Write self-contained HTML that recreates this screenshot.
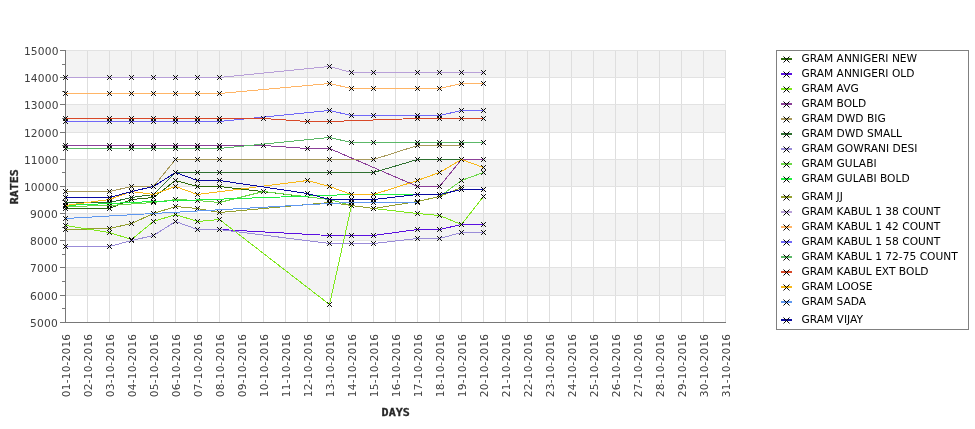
<!DOCTYPE html>
<html lang="en"><head><meta charset="utf-8"><title>Gram rates</title>
<style>
html,body{margin:0;padding:0;background:#fff}
body{width:975px;height:429px;overflow:hidden}
svg{display:block;will-change:transform;transform:translateZ(0)}
.t{font-family:"DejaVu Sans","Liberation Sans",sans-serif;font-size:10.67px;fill:#404040}
.l{font-family:"DejaVu Sans","Liberation Sans",sans-serif;font-size:10.67px;fill:#000}
.a{font-family:"DejaVu Sans Mono","Liberation Mono",monospace;font-weight:bold;font-size:11.2px;fill:#282828;stroke:#282828;stroke-width:.3}
.m{stroke:#000;stroke-width:1;fill:none}
.k{stroke:#000;stroke-width:1;fill:none}
.s{fill:none;stroke-width:1;stroke-linejoin:round;shape-rendering:crispEdges}
</style></head><body>
<svg width="975" height="429" viewBox="0 0 975 429">
<rect width="975" height="429" fill="#fff"/>
<rect x="65" y="50.00" width="661" height="27.00" fill="#f3f3f3"/>
<rect x="65" y="104.00" width="661" height="28.00" fill="#f3f3f3"/>
<rect x="65" y="159.00" width="661" height="27.00" fill="#f3f3f3"/>
<rect x="65" y="213.00" width="661" height="27.00" fill="#f3f3f3"/>
<rect x="65" y="267.00" width="661" height="28.00" fill="#f3f3f3"/>
<path d="M87.5 50V322M109.5 50V322M131.5 50V322M153.5 50V322M175.5 50V322M197.5 50V322M219.5 50V322M241.5 50V322M263.5 50V322M285.5 50V322M307.5 50V322M329.5 50V322M351.5 50V322M373.5 50V322M395.5 50V322M417.5 50V322M439.5 50V322M461.5 50V322M483.5 50V322M505.5 50V322M527.5 50V322M549.5 50V322M571.5 50V322M593.5 50V322M615.5 50V322M637.5 50V322M659.5 50V322M681.5 50V322M703.5 50V322M725.5 50V322" stroke="#dedede" stroke-width="1" fill="none"/>
<path d="M66 295.5H726M66 267.5H726M66 240.5H726M66 213.5H726M66 186.5H726M66 159.5H726M66 132.5H726M66 104.5H726M66 77.5H726M66 50.5H726" stroke="#e2e2e2" stroke-width="1" fill="none"/>
<path d="M65.5 50V323M65 322.5H726M60 322.5H65M62 308.5H65M60 295.5H65M62 281.5H65M60 267.5H65M62 254.5H65M60 240.5H65M62 227.5H65M60 213.5H65M62 200.5H65M60 186.5H65M62 172.5H65M60 159.5H65M62 145.5H65M60 132.5H65M62 118.5H65M60 104.5H65M62 91.5H65M60 77.5H65M62 64.5H65M60 50.5H65" stroke="#787878" stroke-width="1" fill="none"/>
<text class="t" x="57.9" y="326.5" text-anchor="end" letter-spacing="0.2">5000</text>
<text class="t" x="57.9" y="299.5" text-anchor="end" letter-spacing="0.2">6000</text>
<text class="t" x="57.9" y="271.5" text-anchor="end" letter-spacing="0.2">7000</text>
<text class="t" x="57.9" y="244.5" text-anchor="end" letter-spacing="0.2">8000</text>
<text class="t" x="57.9" y="217.5" text-anchor="end" letter-spacing="0.2">9000</text>
<text class="t" x="58.8" y="190.5" text-anchor="end" letter-spacing="0.2">10000</text>
<text class="t" x="58.8" y="163.5" text-anchor="end" letter-spacing="0.2">11000</text>
<text class="t" x="58.8" y="136.5" text-anchor="end" letter-spacing="0.2">12000</text>
<text class="t" x="58.8" y="108.5" text-anchor="end" letter-spacing="0.2">13000</text>
<text class="t" x="58.8" y="81.5" text-anchor="end" letter-spacing="0.2">14000</text>
<text class="t" x="58.8" y="54.5" text-anchor="end" letter-spacing="0.2">15000</text>
<text class="t" transform="translate(69.9 333.7) rotate(-90)" text-anchor="end" letter-spacing="0.15">01-10-2016</text>
<text class="t" transform="translate(91.9 333.7) rotate(-90)" text-anchor="end" letter-spacing="0.15">02-10-2016</text>
<text class="t" transform="translate(113.9 333.7) rotate(-90)" text-anchor="end" letter-spacing="0.15">03-10-2016</text>
<text class="t" transform="translate(135.9 333.7) rotate(-90)" text-anchor="end" letter-spacing="0.15">04-10-2016</text>
<text class="t" transform="translate(157.9 333.7) rotate(-90)" text-anchor="end" letter-spacing="0.15">05-10-2016</text>
<text class="t" transform="translate(179.9 333.7) rotate(-90)" text-anchor="end" letter-spacing="0.15">06-10-2016</text>
<text class="t" transform="translate(201.9 333.7) rotate(-90)" text-anchor="end" letter-spacing="0.15">07-10-2016</text>
<text class="t" transform="translate(223.9 333.7) rotate(-90)" text-anchor="end" letter-spacing="0.15">08-10-2016</text>
<text class="t" transform="translate(245.9 333.7) rotate(-90)" text-anchor="end" letter-spacing="0.15">09-10-2016</text>
<text class="t" transform="translate(267.9 333.7) rotate(-90)" text-anchor="end" letter-spacing="0.15">10-10-2016</text>
<text class="t" transform="translate(289.9 333.7) rotate(-90)" text-anchor="end" letter-spacing="0.15">11-10-2016</text>
<text class="t" transform="translate(311.9 333.7) rotate(-90)" text-anchor="end" letter-spacing="0.15">12-10-2016</text>
<text class="t" transform="translate(333.9 333.7) rotate(-90)" text-anchor="end" letter-spacing="0.15">13-10-2016</text>
<text class="t" transform="translate(355.9 333.7) rotate(-90)" text-anchor="end" letter-spacing="0.15">14-10-2016</text>
<text class="t" transform="translate(377.9 333.7) rotate(-90)" text-anchor="end" letter-spacing="0.15">15-10-2016</text>
<text class="t" transform="translate(399.9 333.7) rotate(-90)" text-anchor="end" letter-spacing="0.15">16-10-2016</text>
<text class="t" transform="translate(421.9 333.7) rotate(-90)" text-anchor="end" letter-spacing="0.15">17-10-2016</text>
<text class="t" transform="translate(443.9 333.7) rotate(-90)" text-anchor="end" letter-spacing="0.15">18-10-2016</text>
<text class="t" transform="translate(465.9 333.7) rotate(-90)" text-anchor="end" letter-spacing="0.15">19-10-2016</text>
<text class="t" transform="translate(487.9 333.7) rotate(-90)" text-anchor="end" letter-spacing="0.15">20-10-2016</text>
<text class="t" transform="translate(509.9 333.7) rotate(-90)" text-anchor="end" letter-spacing="0.15">21-10-2016</text>
<text class="t" transform="translate(531.9 333.7) rotate(-90)" text-anchor="end" letter-spacing="0.15">22-10-2016</text>
<text class="t" transform="translate(553.9 333.7) rotate(-90)" text-anchor="end" letter-spacing="0.15">23-10-2016</text>
<text class="t" transform="translate(575.9 333.7) rotate(-90)" text-anchor="end" letter-spacing="0.15">24-10-2016</text>
<text class="t" transform="translate(597.9 333.7) rotate(-90)" text-anchor="end" letter-spacing="0.15">25-10-2016</text>
<text class="t" transform="translate(619.9 333.7) rotate(-90)" text-anchor="end" letter-spacing="0.15">26-10-2016</text>
<text class="t" transform="translate(641.9 333.7) rotate(-90)" text-anchor="end" letter-spacing="0.15">27-10-2016</text>
<text class="t" transform="translate(663.9 333.7) rotate(-90)" text-anchor="end" letter-spacing="0.15">28-10-2016</text>
<text class="t" transform="translate(685.9 333.7) rotate(-90)" text-anchor="end" letter-spacing="0.15">29-10-2016</text>
<text class="t" transform="translate(707.9 333.7) rotate(-90)" text-anchor="end" letter-spacing="0.15">30-10-2016</text>
<text class="t" transform="translate(729.9 333.7) rotate(-90)" text-anchor="end" letter-spacing="0.15">31-10-2016</text>
<text class="a" transform="translate(18.4 204.3) rotate(-90)" textLength="35.2" lengthAdjust="spacingAndGlyphs">RATES</text>
<text class="a" x="381.6" y="416.1" textLength="28.2" lengthAdjust="spacingAndGlyphs">DAYS</text>
<path class="s" d="M65.5 208.50L109.5 208.50L131.5 199.50L153.5 197.50L175.5 180.50L197.5 186.50L219.5 186.50L329.5 199.50L351.5 199.50L373.5 199.50L417.5 194.50L439.5 194.50L461.5 189.50L483.5 189.50" stroke="#2f6b0c"/>
<path class="k" d="M63.1 206.10l4.8 4.8m0 -4.8l-4.8 4.8M107.1 206.10l4.8 4.8m0 -4.8l-4.8 4.8M129.1 197.10l4.8 4.8m0 -4.8l-4.8 4.8M151.1 195.10l4.8 4.8m0 -4.8l-4.8 4.8M173.1 178.10l4.8 4.8m0 -4.8l-4.8 4.8M195.1 184.10l4.8 4.8m0 -4.8l-4.8 4.8M217.1 184.10l4.8 4.8m0 -4.8l-4.8 4.8M327.1 197.10l4.8 4.8m0 -4.8l-4.8 4.8M349.1 197.10l4.8 4.8m0 -4.8l-4.8 4.8M371.1 197.10l4.8 4.8m0 -4.8l-4.8 4.8M415.1 192.10l4.8 4.8m0 -4.8l-4.8 4.8M437.1 192.10l4.8 4.8m0 -4.8l-4.8 4.8M459.1 187.10l4.8 4.8m0 -4.8l-4.8 4.8M481.1 187.10l4.8 4.8m0 -4.8l-4.8 4.8"/>
<path class="s" d="M219.5 229.50L329.5 235.50L351.5 235.50L373.5 235.50L417.5 229.50L439.5 229.50L461.5 224.50L483.5 224.50" stroke="#5a0fe0"/>
<path class="k" d="M217.1 227.10l4.8 4.8m0 -4.8l-4.8 4.8M327.1 233.10l4.8 4.8m0 -4.8l-4.8 4.8M349.1 233.10l4.8 4.8m0 -4.8l-4.8 4.8M371.1 233.10l4.8 4.8m0 -4.8l-4.8 4.8M415.1 227.10l4.8 4.8m0 -4.8l-4.8 4.8M437.1 227.10l4.8 4.8m0 -4.8l-4.8 4.8M459.1 222.10l4.8 4.8m0 -4.8l-4.8 4.8M481.1 222.10l4.8 4.8m0 -4.8l-4.8 4.8"/>
<path class="s" d="M65.5 225.50L109.5 232.50L131.5 239.50L153.5 221.50L175.5 214.50L197.5 221.50L219.5 219.50L329.5 304.50L351.5 205.50L373.5 208.50L417.5 213.50L439.5 215.50L461.5 224.50L483.5 196.50" stroke="#7fe81c"/>
<path class="k" d="M63.1 223.10l4.8 4.8m0 -4.8l-4.8 4.8M107.1 230.10l4.8 4.8m0 -4.8l-4.8 4.8M129.1 237.10l4.8 4.8m0 -4.8l-4.8 4.8M151.1 219.10l4.8 4.8m0 -4.8l-4.8 4.8M173.1 212.10l4.8 4.8m0 -4.8l-4.8 4.8M195.1 219.10l4.8 4.8m0 -4.8l-4.8 4.8M217.1 217.10l4.8 4.8m0 -4.8l-4.8 4.8M327.1 302.10l4.8 4.8m0 -4.8l-4.8 4.8M349.1 203.10l4.8 4.8m0 -4.8l-4.8 4.8M371.1 206.10l4.8 4.8m0 -4.8l-4.8 4.8M415.1 211.10l4.8 4.8m0 -4.8l-4.8 4.8M437.1 213.10l4.8 4.8m0 -4.8l-4.8 4.8M459.1 222.10l4.8 4.8m0 -4.8l-4.8 4.8M481.1 194.10l4.8 4.8m0 -4.8l-4.8 4.8"/>
<path class="s" d="M65.5 145.50L109.5 145.50L131.5 145.50L153.5 145.50L175.5 145.50L197.5 145.50L219.5 145.50L263.5 145.50L307.5 148.50L329.5 148.50L417.5 186.50L439.5 186.50L461.5 159.50L483.5 159.50" stroke="#8b3f98"/>
<path class="k" d="M63.1 143.10l4.8 4.8m0 -4.8l-4.8 4.8M107.1 143.10l4.8 4.8m0 -4.8l-4.8 4.8M129.1 143.10l4.8 4.8m0 -4.8l-4.8 4.8M151.1 143.10l4.8 4.8m0 -4.8l-4.8 4.8M173.1 143.10l4.8 4.8m0 -4.8l-4.8 4.8M195.1 143.10l4.8 4.8m0 -4.8l-4.8 4.8M217.1 143.10l4.8 4.8m0 -4.8l-4.8 4.8M261.1 143.10l4.8 4.8m0 -4.8l-4.8 4.8M305.1 146.10l4.8 4.8m0 -4.8l-4.8 4.8M327.1 146.10l4.8 4.8m0 -4.8l-4.8 4.8M415.1 184.10l4.8 4.8m0 -4.8l-4.8 4.8M437.1 184.10l4.8 4.8m0 -4.8l-4.8 4.8M459.1 157.10l4.8 4.8m0 -4.8l-4.8 4.8M481.1 157.10l4.8 4.8m0 -4.8l-4.8 4.8"/>
<path class="s" d="M65.5 191.50L109.5 191.50L131.5 186.50L153.5 186.50L175.5 159.50L197.5 159.50L219.5 159.50L329.5 159.50L373.5 159.50L417.5 145.50L439.5 145.50L461.5 145.50" stroke="#a89a5c"/>
<path class="k" d="M63.1 189.10l4.8 4.8m0 -4.8l-4.8 4.8M107.1 189.10l4.8 4.8m0 -4.8l-4.8 4.8M129.1 184.10l4.8 4.8m0 -4.8l-4.8 4.8M151.1 184.10l4.8 4.8m0 -4.8l-4.8 4.8M173.1 157.10l4.8 4.8m0 -4.8l-4.8 4.8M195.1 157.10l4.8 4.8m0 -4.8l-4.8 4.8M217.1 157.10l4.8 4.8m0 -4.8l-4.8 4.8M327.1 157.10l4.8 4.8m0 -4.8l-4.8 4.8M371.1 157.10l4.8 4.8m0 -4.8l-4.8 4.8M415.1 143.10l4.8 4.8m0 -4.8l-4.8 4.8M437.1 143.10l4.8 4.8m0 -4.8l-4.8 4.8M459.1 143.10l4.8 4.8m0 -4.8l-4.8 4.8"/>
<path class="s" d="M65.5 202.50L109.5 202.50L131.5 197.50L153.5 194.50L175.5 172.50L197.5 172.50L219.5 172.50L329.5 172.50L373.5 172.50L417.5 159.50L439.5 159.50L461.5 159.50" stroke="#2e7030"/>
<path class="k" d="M63.1 200.10l4.8 4.8m0 -4.8l-4.8 4.8M107.1 200.10l4.8 4.8m0 -4.8l-4.8 4.8M129.1 195.10l4.8 4.8m0 -4.8l-4.8 4.8M151.1 192.10l4.8 4.8m0 -4.8l-4.8 4.8M173.1 170.10l4.8 4.8m0 -4.8l-4.8 4.8M195.1 170.10l4.8 4.8m0 -4.8l-4.8 4.8M217.1 170.10l4.8 4.8m0 -4.8l-4.8 4.8M327.1 170.10l4.8 4.8m0 -4.8l-4.8 4.8M371.1 170.10l4.8 4.8m0 -4.8l-4.8 4.8M415.1 157.10l4.8 4.8m0 -4.8l-4.8 4.8M437.1 157.10l4.8 4.8m0 -4.8l-4.8 4.8M459.1 157.10l4.8 4.8m0 -4.8l-4.8 4.8"/>
<path class="s" d="M65.5 246.50L109.5 246.50L131.5 240.50L153.5 235.50L175.5 221.50L197.5 229.50L219.5 229.50L329.5 243.50L351.5 243.50L373.5 243.50L417.5 238.50L439.5 238.50L461.5 232.50L483.5 232.50" stroke="#9a8cd8"/>
<path class="k" d="M63.1 244.10l4.8 4.8m0 -4.8l-4.8 4.8M107.1 244.10l4.8 4.8m0 -4.8l-4.8 4.8M129.1 238.10l4.8 4.8m0 -4.8l-4.8 4.8M151.1 233.10l4.8 4.8m0 -4.8l-4.8 4.8M173.1 219.10l4.8 4.8m0 -4.8l-4.8 4.8M195.1 227.10l4.8 4.8m0 -4.8l-4.8 4.8M217.1 227.10l4.8 4.8m0 -4.8l-4.8 4.8M327.1 241.10l4.8 4.8m0 -4.8l-4.8 4.8M349.1 241.10l4.8 4.8m0 -4.8l-4.8 4.8M371.1 241.10l4.8 4.8m0 -4.8l-4.8 4.8M415.1 236.10l4.8 4.8m0 -4.8l-4.8 4.8M437.1 236.10l4.8 4.8m0 -4.8l-4.8 4.8M459.1 230.10l4.8 4.8m0 -4.8l-4.8 4.8M481.1 230.10l4.8 4.8m0 -4.8l-4.8 4.8"/>
<path class="s" d="M65.5 206.50L109.5 205.50L153.5 202.50L175.5 199.50L197.5 200.50L219.5 202.50L263.5 191.50L329.5 199.50L351.5 205.50L373.5 208.50L417.5 201.50L439.5 196.50L461.5 180.50L483.5 172.50" stroke="#6cd848"/>
<path class="k" d="M63.1 204.10l4.8 4.8m0 -4.8l-4.8 4.8M107.1 203.10l4.8 4.8m0 -4.8l-4.8 4.8M151.1 200.10l4.8 4.8m0 -4.8l-4.8 4.8M173.1 197.10l4.8 4.8m0 -4.8l-4.8 4.8M195.1 198.10l4.8 4.8m0 -4.8l-4.8 4.8M217.1 200.10l4.8 4.8m0 -4.8l-4.8 4.8M261.1 189.10l4.8 4.8m0 -4.8l-4.8 4.8M327.1 197.10l4.8 4.8m0 -4.8l-4.8 4.8M349.1 203.10l4.8 4.8m0 -4.8l-4.8 4.8M371.1 206.10l4.8 4.8m0 -4.8l-4.8 4.8M415.1 199.10l4.8 4.8m0 -4.8l-4.8 4.8M437.1 194.10l4.8 4.8m0 -4.8l-4.8 4.8M459.1 178.10l4.8 4.8m0 -4.8l-4.8 4.8M481.1 170.10l4.8 4.8m0 -4.8l-4.8 4.8"/>
<path class="s" d="M65.5 205.50L153.5 201.50L351.5 194.50L373.5 194.50L417.5 194.50" stroke="#20f040"/>
<path class="k" d="M63.1 203.10l4.8 4.8m0 -4.8l-4.8 4.8M151.1 199.10l4.8 4.8m0 -4.8l-4.8 4.8M349.1 192.10l4.8 4.8m0 -4.8l-4.8 4.8M371.1 192.10l4.8 4.8m0 -4.8l-4.8 4.8M415.1 192.10l4.8 4.8m0 -4.8l-4.8 4.8"/>
<path class="s" d="M65.5 229.50L109.5 228.50L131.5 223.50L153.5 213.50L175.5 206.50L197.5 208.50L219.5 212.50L329.5 202.50L351.5 205.50L373.5 208.50L417.5 201.50L439.5 196.50L461.5 187.50" stroke="#94a030"/>
<path class="k" d="M63.1 227.10l4.8 4.8m0 -4.8l-4.8 4.8M107.1 226.10l4.8 4.8m0 -4.8l-4.8 4.8M129.1 221.10l4.8 4.8m0 -4.8l-4.8 4.8M151.1 211.10l4.8 4.8m0 -4.8l-4.8 4.8M173.1 204.10l4.8 4.8m0 -4.8l-4.8 4.8M195.1 206.10l4.8 4.8m0 -4.8l-4.8 4.8M217.1 210.10l4.8 4.8m0 -4.8l-4.8 4.8M327.1 200.10l4.8 4.8m0 -4.8l-4.8 4.8M349.1 203.10l4.8 4.8m0 -4.8l-4.8 4.8M371.1 206.10l4.8 4.8m0 -4.8l-4.8 4.8M415.1 199.10l4.8 4.8m0 -4.8l-4.8 4.8M437.1 194.10l4.8 4.8m0 -4.8l-4.8 4.8M459.1 185.10l4.8 4.8m0 -4.8l-4.8 4.8"/>
<path class="s" d="M65.5 77.50L109.5 77.50L131.5 77.50L153.5 77.50L175.5 77.50L197.5 77.50L219.5 77.50L329.5 66.50L351.5 72.50L373.5 72.50L417.5 72.50L439.5 72.50L461.5 72.50L483.5 72.50" stroke="#b8a0d8"/>
<path class="k" d="M63.1 75.10l4.8 4.8m0 -4.8l-4.8 4.8M107.1 75.10l4.8 4.8m0 -4.8l-4.8 4.8M129.1 75.10l4.8 4.8m0 -4.8l-4.8 4.8M151.1 75.10l4.8 4.8m0 -4.8l-4.8 4.8M173.1 75.10l4.8 4.8m0 -4.8l-4.8 4.8M195.1 75.10l4.8 4.8m0 -4.8l-4.8 4.8M217.1 75.10l4.8 4.8m0 -4.8l-4.8 4.8M327.1 64.10l4.8 4.8m0 -4.8l-4.8 4.8M349.1 70.10l4.8 4.8m0 -4.8l-4.8 4.8M371.1 70.10l4.8 4.8m0 -4.8l-4.8 4.8M415.1 70.10l4.8 4.8m0 -4.8l-4.8 4.8M437.1 70.10l4.8 4.8m0 -4.8l-4.8 4.8M459.1 70.10l4.8 4.8m0 -4.8l-4.8 4.8M481.1 70.10l4.8 4.8m0 -4.8l-4.8 4.8"/>
<path class="s" d="M65.5 93.50L109.5 93.50L131.5 93.50L153.5 93.50L175.5 93.50L197.5 93.50L219.5 93.50L329.5 83.50L351.5 88.50L373.5 88.50L417.5 88.50L439.5 88.50L461.5 83.50L483.5 83.50" stroke="#ffb566"/>
<path class="k" d="M63.1 91.10l4.8 4.8m0 -4.8l-4.8 4.8M107.1 91.10l4.8 4.8m0 -4.8l-4.8 4.8M129.1 91.10l4.8 4.8m0 -4.8l-4.8 4.8M151.1 91.10l4.8 4.8m0 -4.8l-4.8 4.8M173.1 91.10l4.8 4.8m0 -4.8l-4.8 4.8M195.1 91.10l4.8 4.8m0 -4.8l-4.8 4.8M217.1 91.10l4.8 4.8m0 -4.8l-4.8 4.8M327.1 81.10l4.8 4.8m0 -4.8l-4.8 4.8M349.1 86.10l4.8 4.8m0 -4.8l-4.8 4.8M371.1 86.10l4.8 4.8m0 -4.8l-4.8 4.8M415.1 86.10l4.8 4.8m0 -4.8l-4.8 4.8M437.1 86.10l4.8 4.8m0 -4.8l-4.8 4.8M459.1 81.10l4.8 4.8m0 -4.8l-4.8 4.8M481.1 81.10l4.8 4.8m0 -4.8l-4.8 4.8"/>
<path class="s" d="M65.5 121.50L109.5 121.50L131.5 121.50L153.5 121.50L175.5 121.50L197.5 121.50L219.5 121.50L329.5 110.50L351.5 115.50L373.5 115.50L417.5 115.50L439.5 115.50L461.5 110.50L483.5 110.50" stroke="#7068f8"/>
<path class="k" d="M63.1 119.10l4.8 4.8m0 -4.8l-4.8 4.8M107.1 119.10l4.8 4.8m0 -4.8l-4.8 4.8M129.1 119.10l4.8 4.8m0 -4.8l-4.8 4.8M151.1 119.10l4.8 4.8m0 -4.8l-4.8 4.8M173.1 119.10l4.8 4.8m0 -4.8l-4.8 4.8M195.1 119.10l4.8 4.8m0 -4.8l-4.8 4.8M217.1 119.10l4.8 4.8m0 -4.8l-4.8 4.8M327.1 108.10l4.8 4.8m0 -4.8l-4.8 4.8M349.1 113.10l4.8 4.8m0 -4.8l-4.8 4.8M371.1 113.10l4.8 4.8m0 -4.8l-4.8 4.8M415.1 113.10l4.8 4.8m0 -4.8l-4.8 4.8M437.1 113.10l4.8 4.8m0 -4.8l-4.8 4.8M459.1 108.10l4.8 4.8m0 -4.8l-4.8 4.8M481.1 108.10l4.8 4.8m0 -4.8l-4.8 4.8"/>
<path class="s" d="M65.5 148.50L109.5 148.50L131.5 148.50L153.5 148.50L175.5 148.50L197.5 148.50L219.5 148.50L329.5 137.50L351.5 142.50L373.5 142.50L417.5 142.50L439.5 142.50L461.5 142.50L483.5 142.50" stroke="#5cb868"/>
<path class="k" d="M63.1 146.10l4.8 4.8m0 -4.8l-4.8 4.8M107.1 146.10l4.8 4.8m0 -4.8l-4.8 4.8M129.1 146.10l4.8 4.8m0 -4.8l-4.8 4.8M151.1 146.10l4.8 4.8m0 -4.8l-4.8 4.8M173.1 146.10l4.8 4.8m0 -4.8l-4.8 4.8M195.1 146.10l4.8 4.8m0 -4.8l-4.8 4.8M217.1 146.10l4.8 4.8m0 -4.8l-4.8 4.8M327.1 135.10l4.8 4.8m0 -4.8l-4.8 4.8M349.1 140.10l4.8 4.8m0 -4.8l-4.8 4.8M371.1 140.10l4.8 4.8m0 -4.8l-4.8 4.8M415.1 140.10l4.8 4.8m0 -4.8l-4.8 4.8M437.1 140.10l4.8 4.8m0 -4.8l-4.8 4.8M459.1 140.10l4.8 4.8m0 -4.8l-4.8 4.8M481.1 140.10l4.8 4.8m0 -4.8l-4.8 4.8"/>
<path class="s" d="M65.5 118.50L109.5 118.50L131.5 118.50L153.5 118.50L175.5 118.50L197.5 118.50L219.5 118.50L263.5 118.50L307.5 121.50L329.5 121.50L417.5 118.50L439.5 118.50L461.5 118.50L483.5 118.50" stroke="#d84828"/>
<path class="k" d="M63.1 116.10l4.8 4.8m0 -4.8l-4.8 4.8M107.1 116.10l4.8 4.8m0 -4.8l-4.8 4.8M129.1 116.10l4.8 4.8m0 -4.8l-4.8 4.8M151.1 116.10l4.8 4.8m0 -4.8l-4.8 4.8M173.1 116.10l4.8 4.8m0 -4.8l-4.8 4.8M195.1 116.10l4.8 4.8m0 -4.8l-4.8 4.8M217.1 116.10l4.8 4.8m0 -4.8l-4.8 4.8M261.1 116.10l4.8 4.8m0 -4.8l-4.8 4.8M305.1 119.10l4.8 4.8m0 -4.8l-4.8 4.8M327.1 119.10l4.8 4.8m0 -4.8l-4.8 4.8M415.1 116.10l4.8 4.8m0 -4.8l-4.8 4.8M437.1 116.10l4.8 4.8m0 -4.8l-4.8 4.8M459.1 116.10l4.8 4.8m0 -4.8l-4.8 4.8M481.1 116.10l4.8 4.8m0 -4.8l-4.8 4.8"/>
<path class="s" d="M65.5 205.50L109.5 199.50L131.5 191.50L153.5 194.50L175.5 186.50L197.5 194.50L307.5 180.50L329.5 186.50L351.5 194.50L373.5 194.50L417.5 180.50L439.5 172.50L461.5 159.50L483.5 167.50" stroke="#f8b818"/>
<path class="k" d="M63.1 203.10l4.8 4.8m0 -4.8l-4.8 4.8M107.1 197.10l4.8 4.8m0 -4.8l-4.8 4.8M129.1 189.10l4.8 4.8m0 -4.8l-4.8 4.8M151.1 192.10l4.8 4.8m0 -4.8l-4.8 4.8M173.1 184.10l4.8 4.8m0 -4.8l-4.8 4.8M195.1 192.10l4.8 4.8m0 -4.8l-4.8 4.8M305.1 178.10l4.8 4.8m0 -4.8l-4.8 4.8M327.1 184.10l4.8 4.8m0 -4.8l-4.8 4.8M349.1 192.10l4.8 4.8m0 -4.8l-4.8 4.8M371.1 192.10l4.8 4.8m0 -4.8l-4.8 4.8M415.1 178.10l4.8 4.8m0 -4.8l-4.8 4.8M437.1 170.10l4.8 4.8m0 -4.8l-4.8 4.8M459.1 157.10l4.8 4.8m0 -4.8l-4.8 4.8M481.1 165.10l4.8 4.8m0 -4.8l-4.8 4.8"/>
<path class="s" d="M65.5 218.50L153.5 213.50L329.5 203.50L351.5 202.50L373.5 202.50L417.5 202.50" stroke="#6098f0"/>
<path class="k" d="M63.1 216.10l4.8 4.8m0 -4.8l-4.8 4.8M151.1 211.10l4.8 4.8m0 -4.8l-4.8 4.8M327.1 201.10l4.8 4.8m0 -4.8l-4.8 4.8M349.1 200.10l4.8 4.8m0 -4.8l-4.8 4.8M371.1 200.10l4.8 4.8m0 -4.8l-4.8 4.8M415.1 200.10l4.8 4.8m0 -4.8l-4.8 4.8"/>
<path class="s" d="M65.5 197.50L109.5 197.50L131.5 191.50L153.5 186.50L175.5 172.50L197.5 180.50L219.5 180.50L307.5 193.50L329.5 199.50L351.5 199.50L373.5 199.50L417.5 194.50L439.5 194.50L461.5 189.50L483.5 189.50" stroke="#0a0aa0"/>
<path class="k" d="M63.1 195.10l4.8 4.8m0 -4.8l-4.8 4.8M107.1 195.10l4.8 4.8m0 -4.8l-4.8 4.8M129.1 189.10l4.8 4.8m0 -4.8l-4.8 4.8M151.1 184.10l4.8 4.8m0 -4.8l-4.8 4.8M173.1 170.10l4.8 4.8m0 -4.8l-4.8 4.8M195.1 178.10l4.8 4.8m0 -4.8l-4.8 4.8M217.1 178.10l4.8 4.8m0 -4.8l-4.8 4.8M305.1 191.10l4.8 4.8m0 -4.8l-4.8 4.8M327.1 197.10l4.8 4.8m0 -4.8l-4.8 4.8M349.1 197.10l4.8 4.8m0 -4.8l-4.8 4.8M371.1 197.10l4.8 4.8m0 -4.8l-4.8 4.8M415.1 192.10l4.8 4.8m0 -4.8l-4.8 4.8M437.1 192.10l4.8 4.8m0 -4.8l-4.8 4.8M459.1 187.10l4.8 4.8m0 -4.8l-4.8 4.8M481.1 187.10l4.8 4.8m0 -4.8l-4.8 4.8"/>
<rect x="776.5" y="50.5" width="192" height="279" fill="#fff" stroke="#808080" stroke-width="1"/>
<path d="M781 59.0H792" stroke="#2f6b0c" stroke-width="2" fill="none"/><path class="m" d="M783.5 56.5l6 6m0 -6l-6 6"/><text class="l" x="801.5" y="62.2">GRAM ANNIGERI NEW</text>
<path d="M781 74.0H792" stroke="#5a0fe0" stroke-width="2" fill="none"/><path class="m" d="M783.5 71.5l6 6m0 -6l-6 6"/><text class="l" x="801.5" y="77.2">GRAM ANNIGERI OLD</text>
<path d="M781 89.0H792" stroke="#7fe81c" stroke-width="2" fill="none"/><path class="m" d="M783.5 86.5l6 6m0 -6l-6 6"/><text class="l" x="801.5" y="92.2">GRAM AVG</text>
<path d="M781 104.0H792" stroke="#8b3f98" stroke-width="2" fill="none"/><path class="m" d="M783.5 101.5l6 6m0 -6l-6 6"/><text class="l" x="801.5" y="107.2">GRAM BOLD</text>
<path d="M781 119.0H792" stroke="#a89a5c" stroke-width="2" fill="none"/><path class="m" d="M783.5 116.5l6 6m0 -6l-6 6"/><text class="l" x="801.5" y="122.2">GRAM DWD BIG</text>
<path d="M781 134.0H792" stroke="#2e7030" stroke-width="2" fill="none"/><path class="m" d="M783.5 131.5l6 6m0 -6l-6 6"/><text class="l" x="801.5" y="137.2">GRAM DWD SMALL</text>
<path d="M781 149.0H792" stroke="#9a8cd8" stroke-width="2" fill="none"/><path class="m" d="M783.5 146.5l6 6m0 -6l-6 6"/><text class="l" x="801.5" y="152.2">GRAM GOWRANI DESI</text>
<path d="M781 164.0H792" stroke="#6cd848" stroke-width="2" fill="none"/><path class="m" d="M783.5 161.5l6 6m0 -6l-6 6"/><text class="l" x="801.5" y="167.2">GRAM GULABI</text>
<path d="M781 179.0H792" stroke="#20f040" stroke-width="2" fill="none"/><path class="m" d="M783.5 176.5l6 6m0 -6l-6 6"/><text class="l" x="801.5" y="182.2">GRAM GULABI BOLD</text>
<path d="M781 197.0H792" stroke="#94a030" stroke-width="2" fill="none"/><path class="m" d="M783.5 194.5l6 6m0 -6l-6 6"/><text class="l" x="801.5" y="200.2">GRAM JJ</text>
<path d="M781 212.0H792" stroke="#b8a0d8" stroke-width="2" fill="none"/><path class="m" d="M783.5 209.5l6 6m0 -6l-6 6"/><text class="l" x="801.5" y="215.2">GRAM KABUL 1 38 COUNT</text>
<path d="M781 227.0H792" stroke="#ffb566" stroke-width="2" fill="none"/><path class="m" d="M783.5 224.5l6 6m0 -6l-6 6"/><text class="l" x="801.5" y="230.2">GRAM KABUL 1 42 COUNT</text>
<path d="M781 242.0H792" stroke="#7068f8" stroke-width="2" fill="none"/><path class="m" d="M783.5 239.5l6 6m0 -6l-6 6"/><text class="l" x="801.5" y="245.2">GRAM KABUL 1 58 COUNT</text>
<path d="M781 257.0H792" stroke="#5cb868" stroke-width="2" fill="none"/><path class="m" d="M783.5 254.5l6 6m0 -6l-6 6"/><text class="l" x="801.5" y="260.2">GRAM KABUL 1 72-75 COUNT</text>
<path d="M781 272.0H792" stroke="#d84828" stroke-width="2" fill="none"/><path class="m" d="M783.5 269.5l6 6m0 -6l-6 6"/><text class="l" x="801.5" y="275.2">GRAM KABUL EXT BOLD</text>
<path d="M781 287.0H792" stroke="#f8b818" stroke-width="2" fill="none"/><path class="m" d="M783.5 284.5l6 6m0 -6l-6 6"/><text class="l" x="801.5" y="290.2">GRAM LOOSE</text>
<path d="M781 302.0H792" stroke="#6098f0" stroke-width="2" fill="none"/><path class="m" d="M783.5 299.5l6 6m0 -6l-6 6"/><text class="l" x="801.5" y="305.2">GRAM SADA</text>
<path d="M781 320.0H792" stroke="#0a0aa0" stroke-width="2" fill="none"/><path class="m" d="M783.5 317.5l6 6m0 -6l-6 6"/><text class="l" x="801.5" y="323.2">GRAM VIJAY</text>
</svg>
</body></html>
